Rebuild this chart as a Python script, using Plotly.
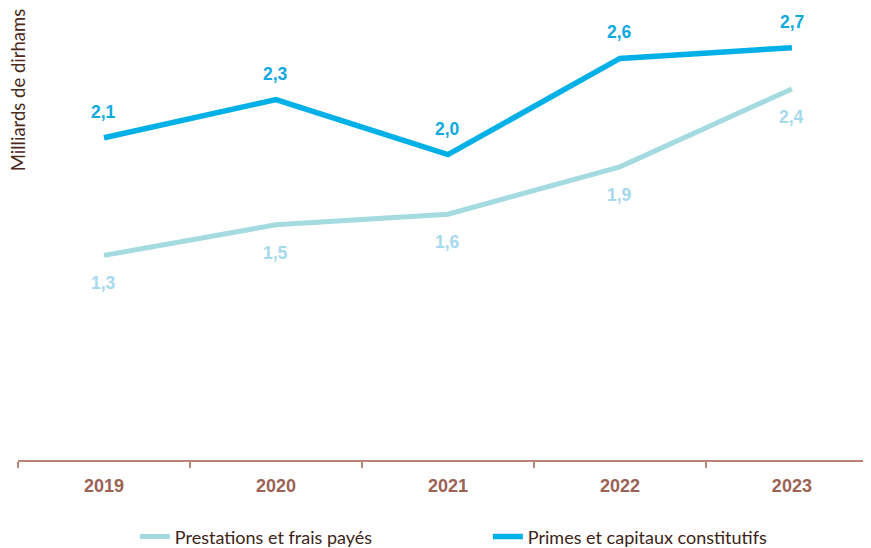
import plotly.graph_objects as go

years = ["2019", "2020", "2021", "2022", "2023"]
prestations = [1.34, 1.54, 1.61, 1.92, 2.43]
primes = [2.11, 2.36, 2.00, 2.63, 2.70]
prestations_txt = ["1,3", "1,5", "1,6", "1,9", "2,4"]
primes_txt = ["2,1", "2,3", "2,0", "2,6", "2,7"]

light = "#a3dbe0"
blue = "#00b0e6"
brown = "#9b6254"

fig = go.Figure()
fig.add_trace(go.Scatter(x=years, y=prestations, mode="lines", name="Prestations et frais payés",
                         line=dict(color=light, width=5)))
fig.add_trace(go.Scatter(x=years, y=primes, mode="lines", name="Primes et capitaux constitutifs",
                         line=dict(color=blue, width=5.5)))

# data labels (x given as category index, numeric-looking strings confuse the category axis)
for i, (y, t) in enumerate(zip(primes, primes_txt)):
    fig.add_annotation(x=i, y=y, text=t, showarrow=False, yshift=26,
                       font=dict(family="Liberation Sans", size=17.5, color="#10a8e0", weight="bold"))
for i, (y, t) in enumerate(zip(prestations, prestations_txt)):
    fig.add_annotation(x=i, y=y, text=t, showarrow=False, yshift=-28,
                       font=dict(family="Liberation Sans", size=17.5, color="#a6d9ee", weight="bold"))

fig.add_annotation(xref="paper", yref="paper", x=0, y=0.818, text="Milliards de dirhams",
                   textangle=-90, showarrow=False, xanchor="center", yanchor="middle",
                   font=dict(family="Lato", size=18.5, color="#4a2a1c"))

# page body has an 8px margin: figure shifted by 8px, extra height lets the legend sit low
# without pushing the bottom margin
fig.update_layout(
    width=863, height=548,
    margin=dict(l=10, r=0, t=0, b=96),
    plot_bgcolor="white", paper_bgcolor="white",
    showlegend=True,
    legend=dict(orientation="h", x=0.137, xanchor="left", y=-0.17, yanchor="middle",
                entrywidth=308, font=dict(family="Lato", size=18, color="#3d2418")),
)
fig.update_xaxes(type="category", range=[-0.5, 4.46], showline=True, linecolor="#b98378", linewidth=2,
                 ticks="outside", tickson="boundaries", ticklen=6, tickcolor="#b98378", tickwidth=2,
                 ticklabelstandoff=8,
                 tickfont=dict(family="Liberation Sans", size=18, color=brown, weight="bold"),
                 showgrid=False)
fig.update_yaxes(range=[0, 2.96], showgrid=False, zeroline=False, showticklabels=False, showline=False)

fig.write_html("out.html")
